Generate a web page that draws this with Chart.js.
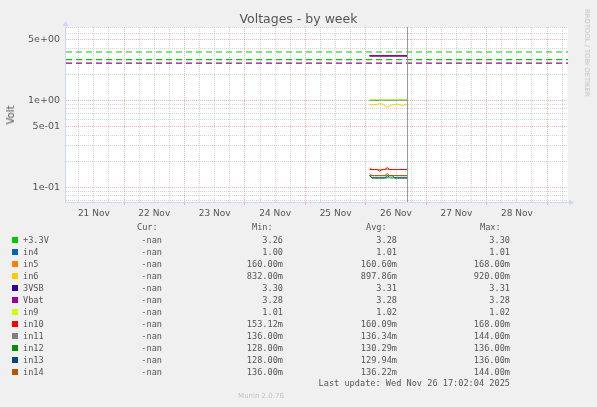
<!DOCTYPE html>
<html>
<head>
<meta charset="utf-8">
<title>Voltages - by week</title>
<script src="https://cdn.jsdelivr.net/npm/chart.js@4.4.1/dist/chart.umd.min.js"></script>
<style>
  body { margin: 0; background: #f0f0f0; }
  #wrap { position: relative; width: 597px; height: 407px; overflow: hidden; background: #f0f0f0; }
  #wrap canvas { position: absolute; left: 0; top: 0; }
  .t { position: absolute; white-space: pre; color: #555; }
  .mono { font-family: 'DejaVu Sans Mono', monospace; font-size: 8.6px; line-height: 12px; }
  .sw { position: absolute; width: 6px; height: 6px; }
</style>
</head>
<body>
<div id="wrap">
  <canvas id="chart" width="597" height="407"></canvas>
</div>
<script>
// series, in munin drawing order (later ones on top)
const seriesNames = ['+3.3V', 'in4', 'in5', 'in6', '3VSB', 'Vbat', 'in9', 'in10', 'in11', 'in12', 'in13', 'in14'];
const seriesColors = ['#00CC00', '#0066B3', '#FF8000', '#FFCC00', '#330099', '#990099', '#CCFF00', '#FF0000', '#808080', '#008F00', '#00487D', '#B35A00'];

// hours since 21 Nov 00:00
const hours = [121.5, 122.5, 123.5, 124.5, 125.5, 126.5, 127.5, 128.5, 129.5, 130.5, 131.5, 132.5, 133.5, 134.5, 135.5, 136.5];

const v33   = [3.28, 3.28, 3.28, 3.30, 3.28, 3.28, 3.28, 3.26, 3.28, 3.28, 3.28, 3.28, 3.28, 3.28, 3.28, 3.28];
const vIn4  = [1.01, 1.01, 1.01, 1.00, 1.01, 1.01, 1.01, 1.01, 1.01, 1.01, 1.01, 1.01, 1.01, 1.01, 1.01, 1.01];
const vIn5  = [0.168, 0.160, 0.160, 0.160, 0.160, 0.160, 0.160, 0.160, 0.160, 0.160, 0.160, 0.160, 0.160, 0.160, 0.160, 0.160];
const vIn6  = [0.888, 0.896, 0.896, 0.904, 0.920, 0.912, 0.872, 0.832, 0.864, 0.896, 0.896, 0.904, 0.896, 0.872, 0.896, 0.896];
const v3vsb = [3.31, 3.31, 3.30, 3.31, 3.30, 3.31, 3.31, 3.31, 3.31, 3.30, 3.31, 3.31, 3.31, 3.31, 3.31, 3.31];
const vBat  = [3.28, 3.28, 3.28, 3.28, 3.28, 3.28, 3.28, 3.28, 3.28, 3.28, 3.28, 3.28, 3.28, 3.28, 3.28, 3.28];
const vIn9  = [1.02, 1.02, 1.02, 1.02, 1.02, 1.01, 1.02, 1.02, 1.02, 1.02, 1.02, 1.02, 1.02, 1.02, 1.02, 1.02];
const vIn10 = [0.160, 0.160, 0.160, 0.160, 0.153, 0.160, 0.160, 0.168, 0.160, 0.160, 0.160, 0.160, 0.160, 0.160, 0.160, 0.160];
const vIn11 = [0.144, 0.136, 0.136, 0.136, 0.136, 0.136, 0.136, 0.136, 0.136, 0.136, 0.136, 0.136, 0.136, 0.136, 0.136, 0.136];
const vIn12 = [0.136, 0.128, 0.128, 0.128, 0.128, 0.128, 0.128, 0.136, 0.128, 0.128, 0.128, 0.128, 0.128, 0.128, 0.128, 0.128];
const vIn13 = [0.136, 0.128, 0.128, 0.128, 0.128, 0.128, 0.128, 0.128, 0.136, 0.136, 0.128, 0.128, 0.128, 0.128, 0.128, 0.128];
const vIn14 = [0.136, 0.136, 0.136, 0.136, 0.136, 0.136, 0.136, 0.144, 0.136, 0.136, 0.136, 0.136, 0.136, 0.136, 0.136, 0.136];
const seriesValues = [v33, vIn4, vIn5, vIn6, v3vsb, vBat, vIn9, vIn10, vIn11, vIn12, vIn13, vIn14];
const seriesWidths = [1, 1, 1, 1, 1, 1.8, 1, 1, 1, 1, 1, 1];

// warning limits (dashed rules)
const limitValues = [3.63, 2.97, 2.7];
const limitColors = ['#00CC00', '#00CC00', '#990099'];

// legend columns
const curVals = ['-nan', '-nan', '-nan', '-nan', '-nan', '-nan', '-nan', '-nan', '-nan', '-nan', '-nan', '-nan'];
const minVals = ['3.26', '1.00', '160.00m', '832.00m', '3.30', '3.28', '1.01', '153.12m', '136.00m', '128.00m', '128.00m', '136.00m'];
const avgVals = ['3.28', '1.01', '160.60m', '897.86m', '3.31', '3.28', '1.02', '160.09m', '136.34m', '130.29m', '129.94m', '136.22m'];
const maxVals = ['3.30', '1.01', '168.00m', '920.00m', '3.31', '3.28', '1.02', '168.00m', '144.00m', '136.00m', '136.00m', '144.00m'];

// axes
const xMin = 0.95, xMax = 200.3, nowHour = 136.4;
const dayLabels = ['21 Nov', '22 Nov', '23 Nov', '24 Nov', '25 Nov', '26 Nov', '27 Nov', '28 Nov'];
const yMin = 0.0675, yMax = 7.05;
const yLabelValues = [0.1, 0.5, 1, 5];
const yLabelText = ['1e-01', '5e-01', '1e+00', '5e+00'];

const GRID = 'rgba(150,150,150,0.4)';
const MGRID = 'rgba(230,110,110,0.5)';
const AXIS = '#CFD6F8';

const xGrid = [];
for (let h = 6; h < xMax; h += 6) xGrid.push(h);
const yGrid = [];
[0.01, 0.1, 1].forEach(d => { for (let m = 1; m <= 9; m++) { const v = m * d; if (v >= yMin && v <= yMax) yGrid.push(v); } });

function isLabelY(v) { return yLabelValues.findIndex(l => Math.abs(l - v) / l < 1e-6); }

const datasets = [];
limitValues.forEach((v, i) => {
  datasets.push({
    data: [{ x: xMin, y: v }, { x: xMax, y: v }],
    borderColor: limitColors[i], borderWidth: 1.2, borderDash: [6, 4],
    pointRadius: 0, order: 100
  });
});
seriesValues.forEach((vals, i) => {
  datasets.push({
    label: seriesNames[i],
    data: hours.map((h, j) => ({ x: h, y: vals[j] })),
    borderColor: seriesColors[i], borderWidth: seriesWidths[i],
    pointRadius: 0, tension: 0, order: 50 - i
  });
});

const muninPlugin = {
  id: 'munin',
  beforeDraw(chart) {
    const { ctx, chartArea: a } = chart;
    ctx.save();
    ctx.fillStyle = '#f0f0f0';
    ctx.fillRect(0, 0, chart.width, chart.height);
    ctx.fillStyle = '#ffffff';
    ctx.fillRect(a.left, a.top, a.right - a.left, a.bottom - a.top);
    ctx.restore();
  },
  afterDatasetsDraw(chart) {
    const { ctx, chartArea: a, scales } = chart;
    ctx.save();
    // now line
    const nx = Math.round(scales.x.getPixelForValue(nowHour)) + 0.5;
    ctx.strokeStyle = '#999999';
    ctx.lineWidth = 1;
    ctx.beginPath(); ctx.moveTo(nx, a.top); ctx.lineTo(nx, a.bottom); ctx.stroke();
    // axes
    ctx.strokeStyle = AXIS;
    ctx.beginPath();
    ctx.moveTo(a.left - 0.5, a.bottom + 0.5); ctx.lineTo(a.left - 0.5, a.top - 3);
    ctx.moveTo(a.left - 0.5, a.bottom + 0.5); ctx.lineTo(a.right + 3, a.bottom + 0.5);
    ctx.stroke();
    ctx.fillStyle = AXIS;
    ctx.beginPath();
    ctx.moveTo(a.left - 3.5, a.top - 1); ctx.lineTo(a.left + 2.5, a.top - 1); ctx.lineTo(a.left - 0.5, a.top - 6); ctx.closePath();
    ctx.fill();
    ctx.beginPath();
    ctx.moveTo(a.right + 1, a.bottom - 2.5); ctx.lineTo(a.right + 1, a.bottom + 3.5); ctx.lineTo(a.right + 6, a.bottom + 0.5); ctx.closePath();
    ctx.fill();
    ctx.restore();
  }
};

new Chart(document.getElementById('chart'), {
  type: 'line',
  data: { datasets },
  plugins: [muninPlugin],
  options: {
    responsive: false,
    animation: false,
    events: [],
    layout: { padding: { top: 27, right: 29, left: 0, bottom: 0 } },
    plugins: { legend: { display: false }, tooltip: { enabled: false }, title: { display: false } },
    scales: {
      x: {
        type: 'linear', min: xMin, max: xMax,
        afterBuildTicks: s => { s.ticks = xGrid.map(v => ({ value: v })); },
        afterFit: s => { s.height = 205; },
        grid: {
          color: c => (c.tick && c.tick.value % 24 === 0) ? MGRID : GRID,
          tickColor: c => (c.tick && c.tick.value % 24 === 0) ? MGRID : 'rgba(0,0,0,0)',
          lineWidth: 1, drawTicks: true, tickLength: 3
        },
        border: { display: false, dash: [1, 1] },
        ticks: {
          autoSkip: false, maxRotation: 0, padding: 3, color: '#555',
          font: { family: 'DejaVu Sans', size: 9 },
          callback: v => (v % 24 === 12) ? (dayLabels[(v - 12) / 24] || '') : ''
        }
      },
      y: {
        type: 'logarithmic', min: yMin, max: yMax,
        afterBuildTicks: s => { s.ticks = yGrid.map(v => ({ value: v })); },
        afterFit: s => { s.width = 66; },
        grid: {
          color: c => (c.tick && isLabelY(c.tick.value) >= 0) ? MGRID : GRID,
          lineWidth: 1, drawTicks: false
        },
        border: { display: false, dash: [1, 1] },
        ticks: {
          autoSkip: false, padding: 6, color: '#555',
          font: { family: 'DejaVu Sans', size: 9.5 },
          callback: v => { const k = isLabelY(v); return k >= 0 ? yLabelText[k] : ''; }
        }
      }
    }
  }
});

// text parts
const wrap = document.getElementById('wrap');
function addText(txt, x, y, opts) {
  const d = document.createElement('div');
  d.className = 't ' + (opts.cls || '');
  d.textContent = txt;
  if (opts.right) d.style.right = (597 - x) + 'px'; else d.style.left = x + 'px';
  d.style.top = (y - 6) + 'px';
  if (opts.style) Object.assign(d.style, opts.style);
  wrap.appendChild(d);
  return d;
}

addText('Voltages - by week', 0, 19, { style: { width: '597px', textAlign: 'center', font: '12.5px "DejaVu Sans"', lineHeight: '12px', color: '#555' } });
addText('Volt', 11, 115, { style: { font: '10px "DejaVu Sans"', lineHeight: '12px', transform: 'translate(-50%,0) rotate(-90deg)', color: '#555' } });
addText('RRDTOOL / TOBI OETIKER', 587, 53, { style: { font: '6.8px "DejaVu Sans"', lineHeight: '12px', transform: 'translate(-50%,0) rotate(90deg)', color: '#c4c4c4' } });
addText('Munin 2.0.76', 261, 396, { style: { font: '7px "DejaVu Sans"', lineHeight: '12px', transform: 'translate(-50%,0)', color: '#c4c4c4' } });

const headY = 227;
addText('Cur:', 137, headY, { cls: 'mono' });
addText('Min:', 252, headY, { cls: 'mono' });
addText('Avg:', 366, headY, { cls: 'mono' });
addText('Max:', 480, headY, { cls: 'mono' });

seriesNames.forEach((n, i) => {
  const y = 240 + i * 12;
  const sw = document.createElement('div');
  sw.className = 'sw';
  sw.style.left = '12px';
  sw.style.top = (y - 3) + 'px';
  sw.style.background = seriesColors[i];
  wrap.appendChild(sw);
  addText(n, 23, y, { cls: 'mono' });
  addText(curVals[i], 162, y, { cls: 'mono', right: true });
  addText(minVals[i], 283, y, { cls: 'mono', right: true });
  addText(avgVals[i], 397, y, { cls: 'mono', right: true });
  addText(maxVals[i], 510, y, { cls: 'mono', right: true });
});
addText('Last update: Wed Nov 26 17:02:04 2025', 510, 383, { cls: 'mono', right: true });
</script>
</body>
</html>
